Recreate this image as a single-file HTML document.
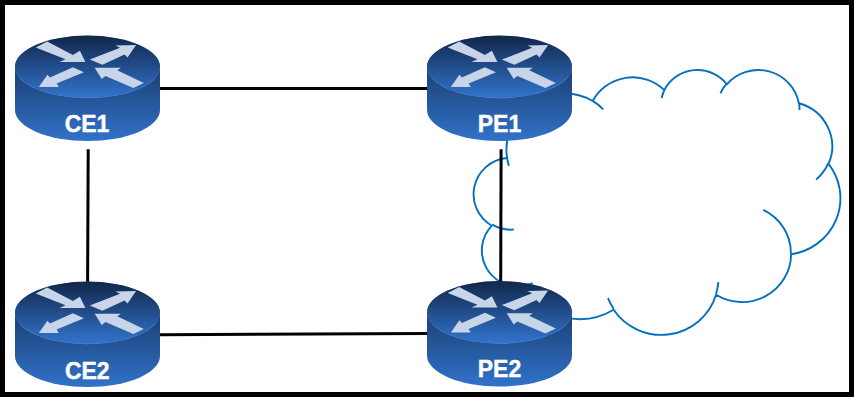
<!DOCTYPE html>
<html><head><meta charset="utf-8"><title>Topology</title>
<style>
html,body{margin:0;padding:0;background:#fff;}
body{width:854px;height:406px;overflow:hidden;position:relative;font-family:"Liberation Sans",sans-serif;}
svg{position:absolute;left:0;top:0;display:block;}
.lbl{font-family:"Liberation Sans",sans-serif;font-weight:bold;font-size:23px;fill:#fff;stroke:#fff;stroke-width:0.4px;text-anchor:middle;}
</style></head><body>
<svg width="854" height="406" viewBox="0 0 854 406">
<defs>
<linearGradient id="gt" x1="0" y1="0" x2="0" y2="1">
<stop offset="0" stop-color="#12274a"/><stop offset="1" stop-color="#3174cd"/>
</linearGradient>
<linearGradient id="gs" x1="0" y1="0" x2="0" y2="1">
<stop offset="0" stop-color="#1b3f72"/><stop offset="1" stop-color="#3172c9"/>
</linearGradient>
<g id="router">
<path d="M0 31.7 L0 75 A72.5 31 0 0 0 145 75 L145 31.7 Z" fill="url(#gs)"/>
<ellipse cx="72.5" cy="32" rx="72.5" ry="31.2" fill="#5a8fd6"/>
<ellipse cx="72.5" cy="31.7" rx="72.5" ry="31.1" fill="url(#gt)"/>
<polygon points="20.7,12.5 32.2,6.4 57.9,19.9 64.9,15.8 70.4,26.9 44.6,26.9 50.5,24.3" fill="#c8d5e8"/>
<polygon points="74.8,24.6 105.1,12.8 100.4,10.6 121.1,9.9 112.5,22.4 109.6,19.5 87.4,29.8" fill="#c8d5e8"/>
<polygon points="57.9,32.3 34.9,42.4 32.4,39.7 23.9,52.0 43.8,52.0 41.6,48.6 68.9,37.2" fill="#c8d5e8"/>
<polygon points="79.7,32.8 105.9,32.8 102.2,35.3 128.8,48.0 118.4,53.0 90.4,40.9 86.7,43.9" fill="#c8d5e8"/>
</g>
</defs>
<rect x="0" y="0" width="854" height="406" fill="#fff"/>
<rect x="2.5" y="2.5" width="849" height="392" fill="none" stroke="#000" stroke-width="5"/>
<path d="M506.97 157.19A57.27 56.33 0 0 1 592.66 100.99A45.22 44.55 0 0 1 664.33 90.14A37.02 36.44 0 0 1 726.88 84.31A41.19 40.43 0 0 1 798.84 103.28A45.22 44.58 0 0 1 828.52 163.87A57.45 56.52 0 0 1 791.09 254.24A49.06 48.22 0 0 1 716.05 294.77A57.26 56.49 0 0 1 613.65 309.79A65.47 64.63 0 0 1 523.13 286.53A36.97 36.28 0 0 1 491.82 225.71A36.85 36.44 0 0 1 506.66 158.01ZM513.70 229.57A36.85 36.44 0 0 1 492.22 224.68M532.65 283.03A36.97 36.28 0 0 1 523.25 285.37M613.63 308.72A57.26 56.49 0 0 1 607.97 298.06M718.35 282.12A57.26 56.49 0 0 1 716.09 293.83M763.31 209.81A49.06 48.22 0 0 1 790.89 253.55M828.35 163.22A45.22 44.58 0 0 1 816.07 179.62M798.89 102.36A41.19 40.43 0 0 1 799.54 110.11M720.48 93.33A41.19 40.43 0 0 1 726.77 83.45M661.66 98.03A37.02 36.44 0 0 1 664.70 89.51M592.62 100.93A45.22 44.55 0 0 1 603.13 109.31M508.90 165.89A57.27 56.33 0 0 1 506.97 157.19" fill="#fff" stroke="#0070c0" stroke-width="1.9" stroke-linejoin="round"/>
<g stroke="#000" stroke-width="3" fill="none">
<line x1="160" y1="88.5" x2="428" y2="88.5"/>
<line x1="160" y1="334.7" x2="428" y2="333.4"/>
<line x1="88.2" y1="149.3" x2="87.6" y2="283"/>
<line x1="501.1" y1="149.3" x2="500.7" y2="282"/>
</g>
<use href="#router" x="15" y="35"/>
<use href="#router" x="427" y="35"/>
<use href="#router" x="15" y="281"/>
<use href="#router" x="427" y="280.5"/>
<text class="lbl" x="87" y="132.3">CE1</text>
<text class="lbl" x="499.5" y="132.3">PE1</text>
<text class="lbl" x="87.3" y="378.8">CE2</text>
<text class="lbl" x="499.5" y="377.4">PE2</text>
</svg>
</body></html>
